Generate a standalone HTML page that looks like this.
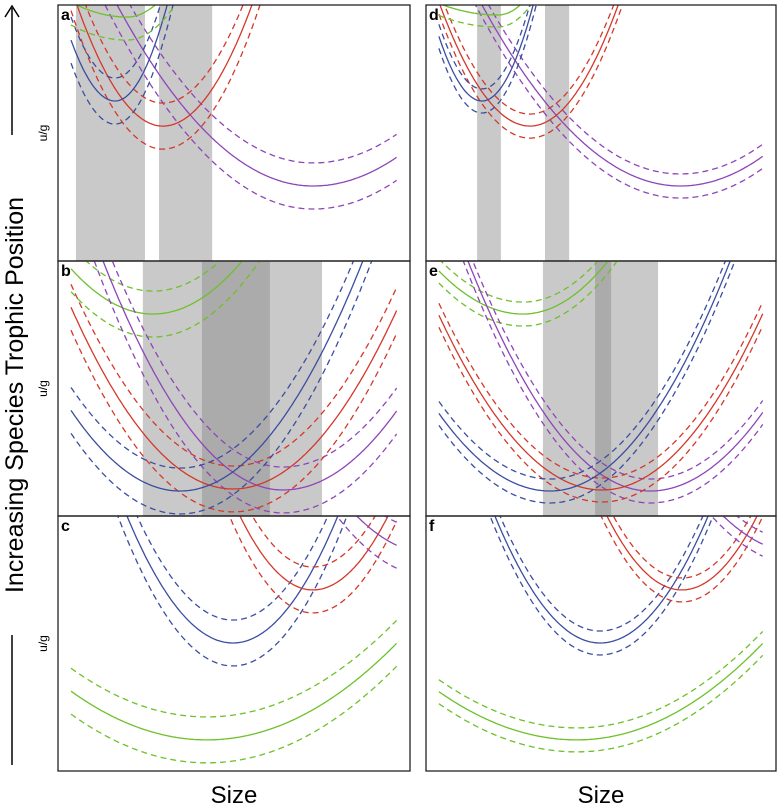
<!DOCTYPE html>
<html><head><meta charset="utf-8"><style>
body{margin:0;background:#fff;}
svg{display:block;font-family:"Liberation Sans",sans-serif;}
</style></head><body>
<svg id="chart" width="777" height="805" viewBox="0 0 777 805">
<g>
<text x="0" y="0" transform="translate(23,395) rotate(-90)" text-anchor="middle" font-size="25">Increasing Species Trophic Position</text>
<line x1="12" y1="135" x2="12" y2="8" stroke="#000" stroke-width="1.5"/>
<path d="M5,17 L12,6 L19,17" fill="none" stroke="#000" stroke-width="1.5"/>
<line x1="12" y1="635" x2="12" y2="765" stroke="#000" stroke-width="1.5"/>
</g>
<text x="234" y="803" text-anchor="middle" font-size="24">Size</text>
<text x="601" y="803" text-anchor="middle" font-size="24">Size</text>
<g id="panels"></g>
</svg>
<script>
// Panel layout
const panelIds = ['a','b','c','d','e','f'];
// curves: [xmin, ymin, leftX, leftY, rightX, rightY] in data units (0-100)
const curvesA = {purple:[72.4,29.3,16.8,100,96.3,40.6], red:[29.8,52.7,5.4,100,55.1,100], blue:[16.2,62.5,3.7,86.3,31,100], green:[19.6,95.3,5.4,100,27.6,100]};
const curvesB = {green:[27,79.2,4,96.5,52.3,100], purple:[63.9,10.2,12.8,100,96,40.8], red:[49.7,10.6,4.3,80,96,80], blue:[34.7,9.8,4,40.8,86.6,100]};
const curvesC = {green:[42.3,12.2,4,31,96.3,50.2], blue:[49.7,50.2,19.6,100,79.5,100], red:[72.4,71,51.7,100,93.75,100], purple:[105.7,85.5,84.9,100,126.5,100]};
const curvesD = {purple:[72.6,29.3,16,100,96.3,41], red:[29.7,52.7,4,100,54.9,100], blue:[16,62.5,3.4,89,30.6,100], green:[20.6,96.1,4.9,100,26.9,100]};
const curvesE = {green:[27.7,79.2,3.4,96.5,52,100], purple:[64,9.8,12,100,96.3,40.8], red:[50.3,10.2,3.4,79.6,96.3,79.6], blue:[35.4,9.8,3.4,40.8,86.9,100]};
const curvesF = {green:[43.1,12.2,3.4,31.4,96.3,50.2], blue:[49.7,50.2,19.7,100,80.6,100], red:[73.1,71,51.7,100,94.6,100], purple:[106.9,85.5,84.9,100,128.9,100]};
// shaded size ranges [from, to]
const shadeA = [[5.1,24.7],[28.7,43.8]];
const shadeB = [[24.1,60.2],[40.9,75]];
const shadeC = [];
const shadeD = [[14.6,21.4],[34,40.9]];
const shadeE = [[33.4,52.9],[48.3,66.3]];
const shadeF = [];
// confidence band half-widths (y units)
const bandLeft = 9;
const bandRight = 4.7;

const boxes = {a:[58,5,352,256],b:[58,261,352,255],c:[58,516,352,255],d:[426,5,350,256],e:[426,261,350,255],f:[426,516,350,255]};
const allCurves = {a:curvesA,b:curvesB,c:curvesC,d:curvesD,e:curvesE,f:curvesF};
const allShade = {a:shadeA,b:shadeB,c:shadeC,d:shadeD,e:shadeE,f:shadeF};
const colors = {blue:'#3b4da0',red:'#d4382a',purple:'#8e45b8',green:'#6dc12a'};
const NS='http://www.w3.org/2000/svg';
const root=document.getElementById('panels');
function mk(tag,attrs){const e=document.createElementNS(NS,tag);for(const k in attrs)e.setAttribute(k,attrs[k]);return e;}

panelIds.forEach(function(id){
  const [px,py,pw,ph]=boxes[id];
  const xs=v=>px+v/100*pw, ys=v=>py+ph-v/100*ph;
  const g=mk('g',{});
  
  
  const cp=mk('clipPath',{id:'clip-'+id});
  cp.appendChild(mk('rect',{x:px,y:py,width:pw,height:ph}));
  g.appendChild(cp);
  const inner=mk('g',{'clip-path':'url(#clip-'+id+')'});
  allShade[id].forEach(function(s,i){
    const r=mk('rect',{x:xs(s[0]),y:py,width:xs(s[1])-xs(s[0]),height:ph,fill:'#888',opacity:0.45});
    
    
    inner.appendChild(r);
  });
  const band = px<400?bandLeft:bandRight;
  const cs=allCurves[id];
  Object.keys(cs).forEach(function(name){
    const [xm,ym,lx,ly,rx,ry]=cs[name];
    const kL=(ly-ym)/Math.pow(lx-xm,2), kR=(ry-ym)/Math.pow(rx-xm,2);
    [-band,0,band].forEach(function(off){
      let d='';
      for(let x=3.7;x<=96.31;x+=0.5){
        const k=x<xm?kL:kR;
        const y=ym+k*(x-xm)*(x-xm)+off;
        d+=(d?'L':'M')+xs(x).toFixed(1)+','+ys(y).toFixed(1);
      }
      const p=mk('path',{d:d,fill:'none',stroke:colors[name],'stroke-width':1.3});
      if(off!==0)p.setAttribute('stroke-dasharray','6,4');
      
      
      inner.appendChild(p);
    });
  });
  g.appendChild(inner);
  const fr=mk('rect',{x:px,y:py,width:pw,height:ph,fill:'none',stroke:'#222','stroke-width':1.3});
  
  
  g.appendChild(fr);
  const lb=mk('text',{x:px+3,y:py+15,'font-size':16,'font-weight':'bold'});
  lb.textContent=id;
  
  
  g.appendChild(lb);
  if(px<400){
    const yl=mk('text',{transform:'translate(47,'+(py+ph/2)+') rotate(-90)','text-anchor':'middle','font-size':12});
    yl.textContent='u/g';
    
    
    g.appendChild(yl);
  }
  root.appendChild(g);
});
</script>
</body></html>
